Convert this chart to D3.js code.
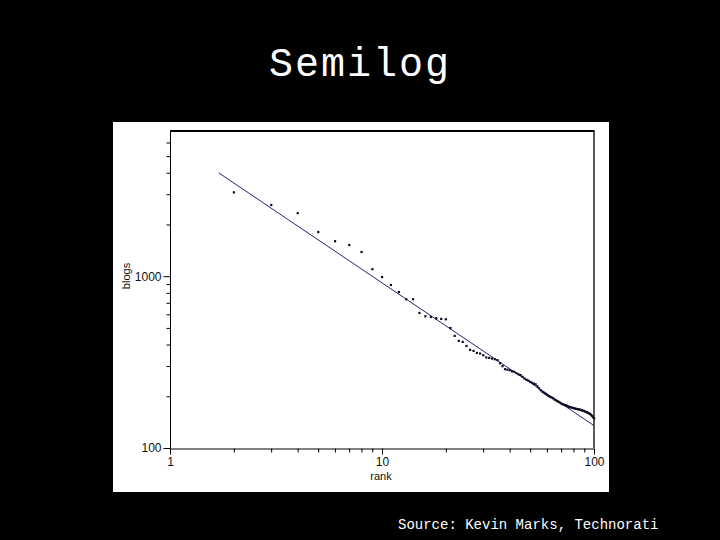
<!DOCTYPE html>
<html><head><meta charset="utf-8">
<script src="https://cdn.jsdelivr.net/npm/d3@7/dist/d3.min.js"></script>
<style>html,body{margin:0;padding:0;background:#000;}svg{display:block;}</style>
</head><body>
<script>
const title = "Semilog";
const source = "Source: Kevin Marks, Technorati";
const ranks = [2,3,4,5,6,7,8,9,10,11,12,13,14,15,16,17,18,19,20,21,22,23,24,25,26,27,28,29,30,
31,32,33,34,35,36,37,38,39,40,41,42,43,44,45,46,47,48,49,50,51,52,53,54,55,56,57,58,59,60,
61,62,63,64,65,66,67,68,69,70,71,72,73,74,75,76,77,78,79,80,81,82,83,84,85,86,87,88,89,90,
91,92,93,94,95,96,97,98,99,100];
const blogs = [3080,2600,2330,1810,1600,1520,1385,1100,990,890,810,735,735,612,585,580,570,565,562,500,
450,421,415,393,373,368,358,355,347,337,335,332,329,325,312,300,288,286,284,280,278,273,269,266,260,
254,250,247,243,240,237,235,229,223,217,213,210,207,204,201,199,197,195,192,190,188,186,184,182,180,
179,178,177,175.5,174,173,172.5,171.5,171,170,169.4,168.8,168.3,168,167.2,166.3,165.7,164.8,164,163,
162,161,160,159,157.6,155.5,153.5,151,149];
const fitRank = [1.7, 100];
const fitBlogs = [3990, 135];
const xMajor = [1, 10, 100];
const xMinor = [2,3,4,5,6,7,8,9,20,30,40,50,60,70,80,90];
const yMajor = [100, 1000];
const yMinor = [200,300,400,500,600,700,800,900,2000,3000,4000,5000,6000];
const xLabel = "rank", yLabel = "blogs";

const W = 720, H = 540;
const svg = d3.select("body").append("svg").attr("width", W).attr("height", H);
svg.append("rect").attr("width", W).attr("height", H).attr("fill", "#000");

svg.append("text").attr("x", 360).attr("y", 76).attr("text-anchor", "middle")
  .attr("fill", "#fff").attr("font-family", "Liberation Mono, DejaVu Sans Mono, monospace")
  .attr("font-size", 40).attr("letter-spacing", 2).text(title);

svg.append("rect").attr("x", 113).attr("y", 122).attr("width", 496).attr("height", 370).attr("fill", "#fff");

const x = d3.scaleLog().domain([1, 100]).range([170, 594]);
const y = d3.scaleLog().domain([100, 7000]).range([448, 131]);

const font = "Liberation Sans, Arial, sans-serif";

// frame
svg.append("line").attr("x1", 170).attr("x2", 594.5).attr("y1", y(7000)).attr("y2", y(7000)).attr("stroke", "#000").attr("stroke-width", 2);
svg.append("line").attr("x1", 594).attr("x2", 594).attr("y1", y(7000)).attr("y2", 448).attr("stroke", "#000").attr("stroke-width", 1.3);

// y axis
const yAxis = d3.axisLeft(y).tickValues(yMajor.concat(yMinor)).tickSizeOuter(0).tickSize(4)
  .tickFormat(d => yMajor.includes(d) ? String(d) : "");
const gy = svg.append("g").attr("transform", "translate(170.5,0)").call(yAxis);
gy.select(".domain").attr("stroke", "#000").attr("d", `M0,${y(7000)}V448.5`);
gy.selectAll(".tick line").attr("stroke", "#000").filter(d => yMajor.includes(d)).attr("x2", -7);
gy.selectAll(".tick text").attr("x", -9).attr("font-family", font).attr("font-size", 12).attr("fill", "#111");

// x axis
const xAxis = d3.axisBottom(x).tickValues(xMajor.concat(xMinor)).tickSizeOuter(0).tickSize(4)
  .tickFormat(d => xMajor.includes(d) ? String(d) : "");
const gx = svg.append("g").attr("transform", "translate(0,448.5)").call(xAxis);
gx.select(".domain").attr("stroke", "#000");
gx.selectAll(".tick line").attr("stroke", "#000").filter(d => xMajor.includes(d)).attr("y2", 6);
gx.selectAll(".tick text").attr("y", 9).attr("font-family", font).attr("font-size", 12).attr("fill", "#111");

svg.append("text").attr("x", 381).attr("y", 480).attr("text-anchor", "middle")
  .attr("font-family", font).attr("font-size", 11).attr("fill", "#111").text(xLabel);
svg.append("text").attr("transform", "translate(130,276) rotate(-90)").attr("text-anchor", "middle")
  .attr("font-family", font).attr("font-size", 11).attr("fill", "#111").text(yLabel);

// fit line
const fit = fitRank.map((r, i) => [r, fitBlogs[i]]);
svg.append("path").datum(fit)
  .attr("d", d3.line().x(d => x(d[0])).y(d => y(d[1])))
  .attr("fill", "none").attr("stroke", "#23237a").attr("stroke-width", 1);

// points
svg.append("g").selectAll("rect").data(ranks.map((r, i) => [r, blogs[i]])).join("rect")
  .attr("x", d => x(d[0]) - 1).attr("y", d => y(d[1]) - 1)
  .attr("width", 2.2).attr("height", 2.2).attr("fill", "#0a0a20");

svg.append("text").attr("x", 398).attr("y", 529)
  .attr("fill", "#fff").attr("font-family", "Liberation Mono, DejaVu Sans Mono, monospace")
  .attr("font-size", 14).text(source);
</script>
</body></html>
